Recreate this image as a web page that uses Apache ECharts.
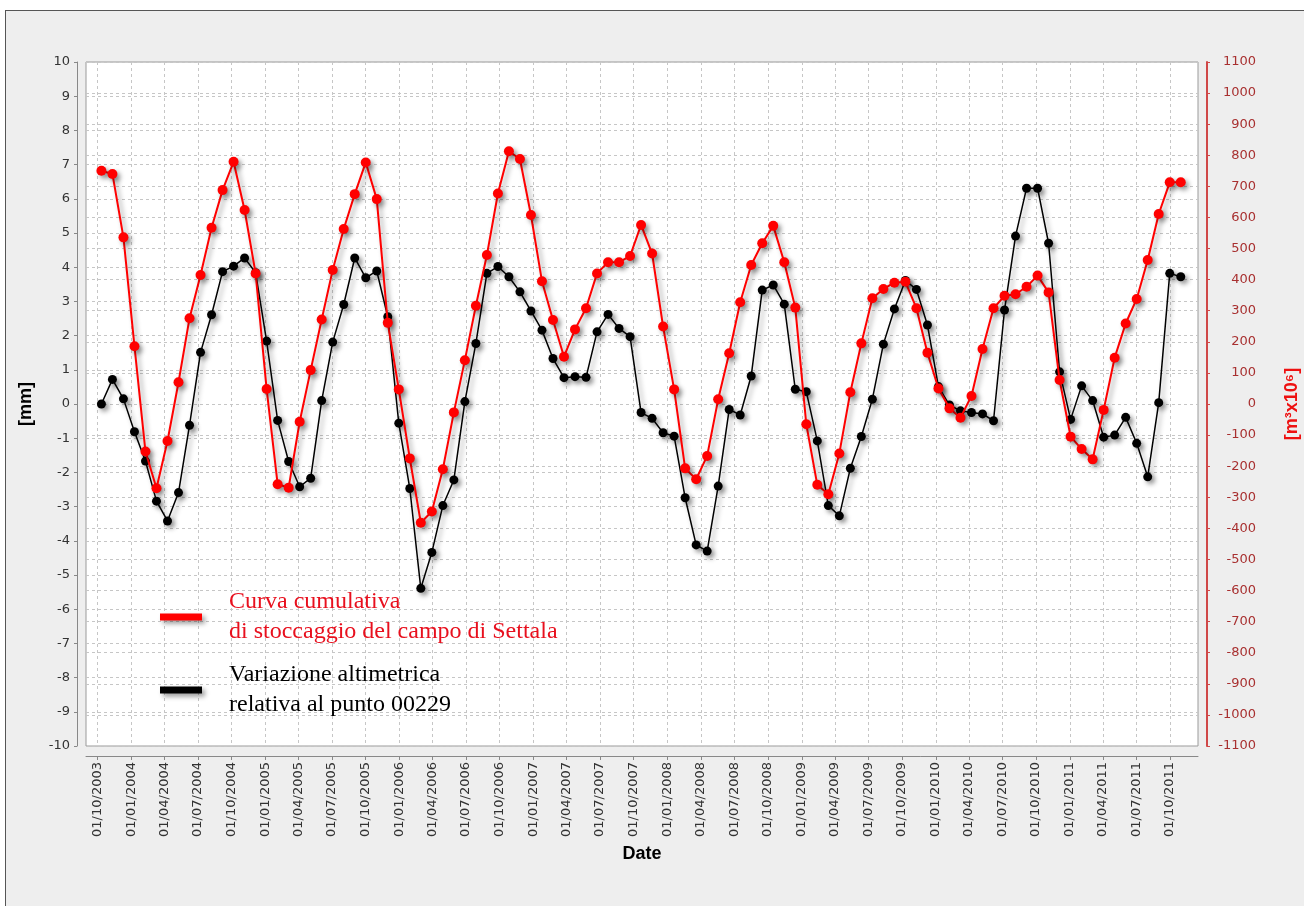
<!DOCTYPE html>
<html>
<head>
<meta charset="utf-8">
<script src="https://cdn.jsdelivr.net/npm/echarts@6/dist/echarts.min.js"></script>
<style>
  html, body { margin: 0; padding: 0; background: #fff; }
  #frame {
    position: absolute; left: 5px; top: 10px; width: 1299px; height: 896px;
    background: #eeeeee; border-left: 1px solid #555; border-top: 1px solid #555;
    box-sizing: border-box;
  }
  #chart { position: absolute; left: 0; top: 0; width: 1304px; height: 906px; }
</style>
</head>
<body>
<div id="frame"></div>
<div id="chart"></div>
<script>
// acquisitions every 30 days from 12/10/2003
const startDate = Date.UTC(2003, 9, 12);
const stepDays = 30;

// Variazione altimetrica, punto 00229 [mm]
const altimetry = [
  0.00, 0.72, 0.15, -0.81, -1.67, -2.84, -3.42, -2.59, -0.62, 1.51,
  2.61, 3.87, 4.03, 4.27, 3.84, 1.84, -0.48, -1.68, -2.42, -2.17,
  0.10, 1.81, 2.91, 4.27, 3.69, 3.89, 2.55, -0.56, -2.47, -5.39,
  -4.34, -2.97, -2.22, 0.07, 1.77, 3.82, 4.02, 3.72, 3.28, 2.72,
  2.16, 1.33, 0.77, 0.80, 0.78, 2.11, 2.62, 2.21, 1.97, -0.25,
  -0.42, -0.84, -0.94, -2.74, -4.12, -4.30, -2.40, -0.16, -0.32, 0.82,
  3.33, 3.48, 2.92, 0.43, 0.36, -1.08, -2.97, -3.27, -1.88, -0.95,
  0.14, 1.75, 2.78, 3.61, 3.35, 2.31, 0.51, -0.03, -0.20, -0.25,
  -0.29, -0.49, 2.75, 4.91, 6.31, 6.31, 4.70, 0.94, -0.45, 0.53,
  0.10, -0.97, -0.91, -0.39, -1.15, -2.13, 0.04, 3.82, 3.72
];

// Curva cumulativa di stoccaggio [m3 x 10^6]
const storage = [
  750, 740, 536, 186, -153, -271, -119, 70, 276, 415,
  567, 688, 779, 624, 420, 48, -258, -269, -57, 109,
  272, 431, 563, 675, 777, 659, 261, 47, -175, -382,
  -346, -210, -27, 141, 316, 479, 677, 813, 788, 608,
  395, 270, 152, 240, 308, 420, 456, 456, 476, 576,
  484, 249, 47, -207, -242, -167, 15, 163, 327, 447,
  517, 573, 456, 310, -65, -260, -290, -159, 38, 195,
  340, 370, 390, 393, 308, 165, 50, -14, -44, 26,
  177, 308, 348, 353, 377, 413, 359, 77, -105, -145,
  -178, -19, 149, 259, 338, 463, 611, 713, 713
];

const tickLabels = [
  '01/10/2003', '01/01/2004', '01/04/2004', '01/07/2004', '01/10/2004',
  '01/01/2005', '01/04/2005', '01/07/2005', '01/10/2005',
  '01/01/2006', '01/04/2006', '01/07/2006', '01/10/2006',
  '01/01/2007', '01/04/2007', '01/07/2007', '01/10/2007',
  '01/01/2008', '01/04/2008', '01/07/2008', '01/10/2008',
  '01/01/2009', '01/04/2009', '01/07/2009', '01/10/2009',
  '01/01/2010', '01/04/2010', '01/07/2010', '01/10/2010',
  '01/01/2011', '01/04/2011', '01/07/2011', '01/10/2011'
];

const storageName = 'Curva cumulativa\ndi stoccaggio del campo di Settala';
const altimetryName = 'Variazione altimetrica\nrelativa al punto 00229';

const DAY = 86400000;
const parseDate = s => {
  const [d, m, y] = s.split('/').map(Number);
  return Date.UTC(y, m - 1, d);
};
const pad = n => (n < 10 ? '0' : '') + n;
const fmtDate = v => {
  const d = new Date(Math.round(v / DAY) * DAY);
  return pad(d.getUTCDate()) + '/' + pad(d.getUTCMonth() + 1) + '/' + d.getUTCFullYear();
};

// x values in days since epoch, plain value axis
const tickValues = tickLabels.map(s => parseDate(s) / DAY);
const dates = altimetry.map((_, i) => startDate / DAY + i * stepDays);

const chart = echarts.init(document.getElementById('chart'), null, { renderer: 'canvas' });

const gridLine = { show: true, lineStyle: { color: '#c6c6c6', width: 1, type: [3, 3] } };
const shadow = { shadowColor: 'rgba(0,0,0,0.4)', shadowBlur: 5, shadowOffsetX: 3, shadowOffsetY: 3 };

const option = {
  animation: false,
  backgroundColor: 'transparent',
  textStyle: { fontFamily: 'DejaVu Sans' },
  grid: {
    left: 86, right: 106, top: 62, bottom: 160,
    show: true, backgroundColor: '#ffffff', borderColor: '#9a9a9a', borderWidth: 1,
    containLabel: false, outerBoundsMode: 'none'
  },
  legend: {
    orient: 'vertical', left: 160, top: 587, padding: 0, itemGap: 13,
    itemWidth: 42, itemHeight: 7, icon: 'rect', selectedMode: false,
    itemStyle: { ...shadow },
    textStyle: { fontFamily: 'Liberation Serif', fontSize: 24, lineHeight: 30, padding: [0, 0, 0, 22] },
    data: [
      { name: storageName, textStyle: { color: '#e8101e' } },
      { name: altimetryName, textStyle: { color: '#000000' } }
    ]
  },
  xAxis: {
    type: 'value',
    min: Date.UTC(2003, 7, 31) / DAY,
    max: Date.UTC(2011, 11, 16) / DAY,
    offset: 10,
    name: 'Date', nameLocation: 'middle', nameGap: 88,
    nameTextStyle: { fontFamily: 'Liberation Sans', fontWeight: 'bold', fontSize: 18, color: '#000' },
    axisLine: { show: true, onZero: false, lineStyle: { color: '#888' } },
    axisTick: { show: true, length: 4, customValues: tickValues, lineStyle: { color: '#888' } },
    axisLabel: {
      rotate: 90, customValues: tickValues, formatter: v => fmtDate(v * DAY),
      color: '#333', fontFamily: 'DejaVu Sans', fontSize: 13, margin: 6, hideOverlap: false
    },
    splitLine: gridLine
  },
  yAxis: [
    {
      type: 'value', min: -10, max: 10, interval: 1, position: 'left', offset: 9,
      name: '[mm]', nameLocation: 'middle', nameRotate: 90, nameGap: 42,
      nameTextStyle: { fontFamily: 'Liberation Sans', fontWeight: 'bold', fontSize: 18, color: '#000' },
      axisLine: { show: true, lineStyle: { color: '#888' } },
      axisTick: { show: true, length: 3, lineStyle: { color: '#888' } },
      axisLabel: { color: '#333', fontFamily: 'DejaVu Sans', fontSize: 13, margin: 7, formatter: v => String(v) },
      splitLine: gridLine
    },
    {
      type: 'value', min: -1100, max: 1100, interval: 100, position: 'right', offset: 9,
      name: '[m³x10⁶]', nameLocation: 'middle', nameRotate: 90, nameGap: 76,
      nameTextStyle: { fontFamily: 'Liberation Sans', fontWeight: 'bold', fontSize: 18, color: '#ee1111' },
      axisLine: { show: true, lineStyle: { color: '#d04848', width: 2 } },
      axisTick: { show: true, length: 3, lineStyle: { color: '#d04848' } },
      axisLabel: {
        color: '#a83030', fontFamily: 'DejaVu Sans', fontSize: 13, margin: 49, align: 'right',
        formatter: v => String(v)
      },
      splitLine: gridLine
    }
  ],
  series: [
    {
      name: altimetryName,
      type: 'line',
      yAxisIndex: 0,
      data: dates.map((d, i) => [d, altimetry[i]]),
      symbol: 'circle', symbolSize: 9, showSymbol: true, showAllSymbol: true,
      lineStyle: { color: '#000', width: 1.5, ...shadow },
      itemStyle: { color: '#000', ...shadow },
      z: 3
    },
    {
      name: storageName,
      type: 'line',
      yAxisIndex: 1,
      data: dates.map((d, i) => [d, storage[i]]),
      symbol: 'circle', symbolSize: 10, showSymbol: true, showAllSymbol: true,
      lineStyle: { color: '#ff0000', width: 2, ...shadow },
      itemStyle: { color: '#ff0000', ...shadow },
      z: 4
    }
  ]
};

chart.setOption(option);
</script>
</body>
</html>
